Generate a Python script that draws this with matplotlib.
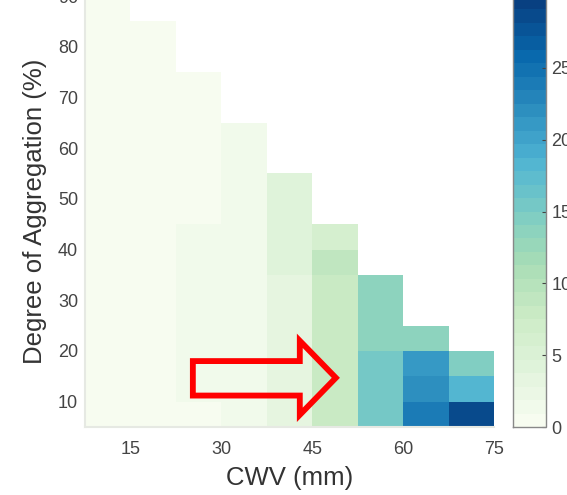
import numpy as np
import matplotlib
matplotlib.use("Agg")
import matplotlib.pyplot as plt
from matplotlib.patches import Polygon
from matplotlib.colors import ListedColormap

plt.rcParams['font.family'] = ['Liberation Sans', 'DejaVu Sans']

# ---- data ----
cwv_edges = [7.5, 15, 22.5, 30, 37.5, 45, 52.5, 60, 67.5, 75]
agg_edges = list(range(5, 95, 5))  # 5 .. 90
# values per CWV column, from the bottom row (5-10 %) upward
col_values = [
    [0.4] * 17,
    [0.5] * 16,
    [0.8] + [1.3] * 7 + [0.7] * 6,
    [1.8] * 12,
    [3.3] * 6 + [4.0] * 4,
    [7.5] * 6 + [9.0, 6.5],
    [15.0, 15.7, 15.0, 14.0, 14.0, 13.3],
    [23.8, 22.2, 21.3, 13.8],
    [29.0, 18.3, 14.7],
]
x_ticks = [15, 30, 45, 60, 75]
y_ticks = [10, 20, 30, 40, 50, 60, 70, 80, 90]
cbar_ticks = [0, 5, 10, 15, 20, 25]
vmin, vmax = 0, 30

nx = len(cwv_edges) - 1
ny = len(agg_edges) - 1
Z = np.full((ny, nx), np.nan)
for j, col in enumerate(col_values):
    Z[:len(col), j] = col
Z = np.ma.masked_invalid(Z)

base = plt.get_cmap('GnBu')
cmap = ListedColormap(base(np.linspace(0, 1, 32)))

W, H = 567, 495
fig = plt.figure(figsize=(W / 100, H / 100), dpi=100)
ax = fig.add_axes([85 / W, (H - 427) / H, 409 / W, 431 / H])
mesh = ax.pcolormesh(cwv_edges, agg_edges, Z, cmap=cmap, vmin=vmin, vmax=vmax,
                     shading='flat')
ax.set_xlim(cwv_edges[0], cwv_edges[-1])
ax.set_ylim(agg_edges[0], agg_edges[-1])
ax.set_xticks(x_ticks)
ax.set_yticks(y_ticks)
ax.tick_params(length=0, labelsize=13, colors='#444444')
ax.tick_params(axis='x', pad=10)
ax.tick_params(axis='y', pad=5)
for s in ['top', 'right']:
    ax.spines[s].set_visible(False)
for s in ['left', 'bottom']:
    ax.spines[s].set_color('#e6e9e3')
    ax.spines[s].set_linewidth(1.5)
ax.set_xlabel('CWV (mm)', fontsize=18.5, color='#333333')
ax.set_ylabel('Degree of Aggregation (%)', fontsize=18.5, color='#333333')
ax.xaxis.label.set_va('center')
ax.yaxis.label.set_va('center')
ax.xaxis.set_label_coords(0.5, (427 - 478) / 431)
ax.yaxis.set_label_coords((35 - 85) / 409, 0.5)

# red outline arrow annotation
arrow = [(25.3, 11.2), (25.3, 18.0), (42.95, 18.0), (42.95, 22.0), (48.9, 14.7),
         (42.95, 7.4), (42.95, 11.2)]
ax.add_patch(Polygon(arrow, closed=True, facecolor='none', edgecolor='#ff0000',
                     linewidth=4.2, joinstyle='miter', zorder=5))

cax = fig.add_axes([513 / W, (H - 427) / H, 33 / W, 431 / H])
cb = fig.colorbar(mesh, cax=cax, ticks=cbar_ticks)
cb.outline.set_edgecolor('#888888')
cb.outline.set_linewidth(1)
cax.tick_params(direction='in', length=3, width=0.8, color='#444444',
                labelsize=13, labelcolor='#444444', pad=4)

fig.savefig('out.png', dpi=100)
